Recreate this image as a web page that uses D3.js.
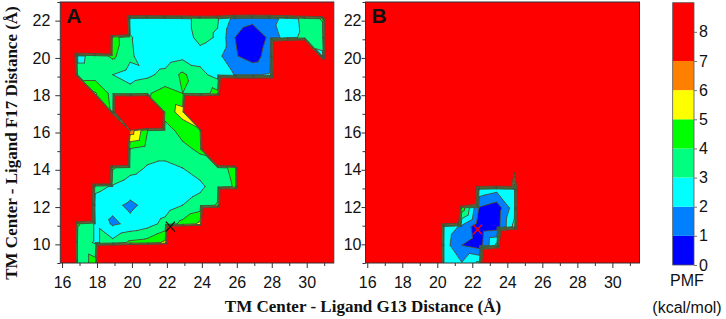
<!DOCTYPE html>
<html>
<head>
<meta charset="utf-8">
<script src="https://cdn.jsdelivr.net/npm/d3@7"></script>
<style>
  body { margin: 0; background: #fff; }
</style>
</head>
<body>
<div id="chart"></div>
<script>
// PMF value used where the surface was not sampled (drawn red)
var H = 30;

// colour bands of the PMF scale (kcal/mol)
var bandLevels = [0, 1, 2, 3, 4, 5, 6, 7, 9];
var bandColors = ["#0000ff", "#0080ff", "#00ffff", "#00ff80", "#00ff00", "#ffff00", "#ff8000", "#ff0000"];
var lineLevels = [1, 2, 3, 4, 5, 6, 7];

var xTicks = [16, 18, 20, 22, 24, 26, 28, 30];
var xMinor = [17, 19, 21, 23, 25, 27, 29, 31];
var yTicks = [10, 12, 14, 16, 18, 20, 22];
var yMinor = [9, 11, 13, 15, 17, 19, 21, 23];
var cbTicks = [0, 1, 2, 3, 4, 5, 6, 7, 8];

// panel A grid (rows from top to bottom)
var xNodesA = [15.9, 16.9, 17.9, 18.9, 19.9, 20.9, 21.9, 22.9, 23.9, 24.9, 25.9, 26.9, 27.9, 28.9, 29.9, 30.9, 31.9];
var yNodesA = [23.1, 22.1, 21.1, 20.1, 19.1, 18.1, 17.1, 16.1, 15.1, 14.1, 13.1, 12.1, 11.1, 10.1, 9.1, 8.1];
var pmfA = [
  [H, H, H, H, H, H, H, H, H, H, H, H, H, H, H, H, H],
  [H, H, H, H, 2.4, 2.4, 2.5, 2.7, 3.3, 3.1, 1.6, 1.3, 1.7, 2.3, 3.4, 4.1, H],
  [H, H, H, 4.5, 3.1, 2.4, 2.3, 2.5, 3.3, 2.9, 1.0, 0.3, 1.2, 2.6, 3.3, 3.5, H],
  [H, 2.7, 3.4, 4.2, 3.2, 2.3, 2.4, 2.7, 2.6, 2.3, 1.1, 0.5, 1.5, H, H, 2.8, H],
  [H, 3.5, 3.5, 3.0, 2.6, 2.8, 3.3, 4.2, 3.3, 2.6, 1.95, 1.9, 2.1, H, H, H, H],
  [H, H, 5.1, 3.6, 3.4, 3.9, 4.4, 4.0, 3.6, 4.3, H, H, H, H, H, H, H],
  [H, H, H, 3.8, H, H, 4.5, 5.4, H, H, H, H, H, H, H, H, H],
  [H, H, H, H, 6.6, 4.0, 3.5, 4.4, 4.9, H, H, H, H, H, H, H, H],
  [H, H, H, H, 3.9, 3.5, 3.5, 3.7, 4.2, H, H, H, H, H, H, H, H],
  [H, H, H, 4.1, 3.4, 2.9, 2.7, 3.0, 3.4, 3.6, 4.3, H, H, H, H, H, H],
  [H, H, 3.3, 2.9, 2.4, 2.2, 2.3, 2.5, 2.8, 3.5, 4.1, H, H, H, H, H, H],
  [H, H, 2.5, 2.2, 1.85, 2.2, 2.5, 3.0, 3.4, 4.1, H, H, H, H, H, H, H],
  [H, 4.1, 2.9, 1.85, 2.2, 2.6, 3.3, 4.3, 5.2, H, H, H, H, H, H, H, H],
  [H, 3.5, 2.9, 3.3, 4.2, 4.4, 5.2, H, H, H, H, H, H, H, H, H, H],
  [H, 3.5, 4.3, H, H, H, H, H, H, H, H, H, H, H, H, H, H],
  [H, 3.5, 4.3, H, H, H, H, H, H, H, H, H, H, H, H, H, H]
];

// panel B grid (only the sampled corner, the rest is above the scale)
var xNodesB = [19.4, 20.4, 21.4, 22.4, 23.4, 24.4, 25.4];
var yNodesB = [14.95, 13.95, 12.95, 11.95, 10.95, 9.95, 8.95];
var pmfB = [
  [H, H, H, H, H, H, H],
  [H, H, H, H, H, 7.5, H],
  [H, H, H, 2.7, 2.3, 2.8, H],
  [H, H, 4.6, 0.9, 0.4, 2.6, H],
  [H, 2.7, 1.8, 0.3, 0.5, 3.3, H],
  [H, 2.5, 1.0, 0.5, 3.2, H, H],
  [H, 2.6, 2.1, 3.3, H, H, H]
];

// minimum markers
var minA = [22.2, 10.95];
var minB = [22.3, 10.8];

var width = 726, height = 319;
var plotTop = 2, plotBottom = 263;
var sans = "'Liberation Sans', Arial, sans-serif";
var serif = "'Liberation Serif', 'Times New Roman', serif";

var svg = d3.select("#chart").append("svg")
    .attr("width", width)
    .attr("height", height);

var line = d3.line().x(function (d) { return d.x; }).y(function (d) { return d.y; });

// keep the part of a polygon where value >= t (above) or < t
function clipPoly(poly, t, above) {
    var out = [];
    for (var i = 0; i < poly.length; i++) {
        var a = poly[i], b = poly[(i + 1) % poly.length];
        var ina = above ? a.v >= t : a.v < t;
        var inb = above ? b.v >= t : b.v < t;
        if (ina) out.push(a);
        if (ina !== inb) {
            var f = (t - a.v) / (b.v - a.v);
            out.push({x: a.x + f * (b.x - a.x), y: a.y + f * (b.y - a.y), v: t});
        }
    }
    return out;
}

function drawPanel(p) {
    var x = d3.scaleLinear().domain([15.9, 31.55]).range([p.left, p.right]);
    var y = d3.scaleLinear().domain([9, 23]).range([plotBottom, plotTop]);

    svg.append("clipPath").attr("id", "clip-" + p.name)
        .append("rect")
        .attr("x", p.left).attr("y", plotTop)
        .attr("width", p.right - p.left).attr("height", plotBottom - plotTop);

    var g = svg.append("g").attr("clip-path", "url(#clip-" + p.name + ")");

    g.append("rect")
        .attr("x", p.left).attr("y", plotTop)
        .attr("width", p.right - p.left).attr("height", plotBottom - plotTop)
        .attr("fill", bandColors[7]);

    // split each grid cell along the top-left / bottom-right diagonal
    var tris = [];
    function node(r, c) { return {x: x(p.xs[c]), y: y(p.ys[r]), v: p.grid[r][c]}; }
    for (var r = 0; r < p.ys.length - 1; r++) {
        for (var c = 0; c < p.xs.length - 1; c++) {
            var tl = node(r, c), tr = node(r, c + 1), bl = node(r + 1, c), br = node(r + 1, c + 1);
            tris.push([tl, tr, br], [tl, br, bl]);
        }
    }

    // filled bands below 7 (red is the background)
    for (var k = 0; k < 7; k++) {
        var d = "";
        tris.forEach(function (t) {
            var poly = k === 0 ? t : clipPoly(t, k, true);
            poly = clipPoly(poly, k + 1, false);
            if (poly.length >= 3) d += line(poly) + "Z";
        });
        if (d) g.append("path").attr("d", d).attr("fill", bandColors[k]);
    }

    // contour lines
    var dl = "";
    lineLevels.forEach(function (lv) {
        tris.forEach(function (t) {
            var pts = [];
            for (var i = 0; i < 3; i++) {
                var a = t[i], b = t[(i + 1) % 3];
                if ((a.v >= lv) !== (b.v >= lv)) {
                    var f = (lv - a.v) / (b.v - a.v);
                    pts.push({x: a.x + f * (b.x - a.x), y: a.y + f * (b.y - a.y)});
                }
            }
            if (pts.length === 2) dl += line(pts);
        });
    });
    g.append("path").attr("d", dl)
        .attr("fill", "none")
        .attr("stroke", "#3f4f3f")
        .attr("stroke-width", 0.85)
        .attr("stroke-linecap", "round");

    // minimum marker
    var mx = x(p.min[0]), my = y(p.min[1]);
    g.append("path")
        .attr("d", "M" + (mx - 4.5) + "," + (my - 5) + "L" + (mx + 4.5) + "," + (my + 5) +
                   "M" + (mx + 4.5) + "," + (my - 5) + "L" + (mx - 4.5) + "," + (my + 5))
        .attr("stroke", p.markColor)
        .attr("stroke-width", 1.3)
        .attr("fill", "none");

    // frame
    svg.append("rect")
        .attr("x", p.left).attr("y", plotTop)
        .attr("width", p.right - p.left).attr("height", plotBottom - plotTop)
        .attr("fill", "none").attr("stroke", "#333").attr("stroke-width", 1);

    // axes
    var xa = svg.append("g").attr("transform", "translate(0," + plotBottom + ")")
        .call(d3.axisBottom(x).tickValues(xTicks).tickSize(5).tickPadding(9).tickFormat(d3.format("d")));
    svg.append("g").attr("transform", "translate(0," + plotBottom + ")")
        .call(d3.axisBottom(x).tickValues(xMinor).tickSize(3).tickFormat(""));
    var ya = svg.append("g").attr("transform", "translate(" + p.left + ",0)")
        .call(d3.axisLeft(y).tickValues(yTicks).tickSize(p.tick).tickPadding(p.pad).tickFormat(d3.format("d")));
    svg.append("g").attr("transform", "translate(" + p.left + ",0)")
        .call(d3.axisLeft(y).tickValues(yMinor).tickSize(3).tickFormat(""));

    svg.selectAll(".domain").remove();
    svg.selectAll(".tick line").attr("stroke", "#333");
    xa.selectAll("text").style("font-size", "16px").style("fill", "#111").style("font-family", sans);
    ya.selectAll("text").style("font-size", "16px").style("fill", "#111").style("font-family", sans);

    // panel letter
    svg.append("text")
        .attr("x", p.left + 6).attr("y", 23)
        .style("font-size", "21px").style("font-weight", "bold").style("font-family", sans)
        .style("fill", "#111")
        .text(p.name);
}

drawPanel({name: "A", left: 60.3, right: 333.8, xs: xNodesA, ys: yNodesA, grid: pmfA,
           min: minA, markColor: "#111", tick: 5, pad: 5});
drawPanel({name: "B", left: 365.5, right: 639.5, xs: xNodesB, ys: yNodesB, grid: pmfB,
           min: minB, markColor: "#ff0000", tick: 4, pad: 0});

// axis titles
svg.append("text")
    .attr("x", 363).attr("y", 312)
    .attr("text-anchor", "middle")
    .style("font-family", serif)
    .style("font-weight", "bold").style("font-size", "17px")
    .style("fill", "#111")
    .text("TM Center - Ligand G13 Distance (Å)");

svg.append("text")
    .attr("transform", "translate(17,143) rotate(-90)")
    .attr("text-anchor", "middle")
    .style("font-family", serif)
    .style("font-weight", "bold").style("font-size", "17px")
    .style("fill", "#111")
    .text("TM Center - Ligand F17 Distance (Å)");

// colour bar
var cbLeft = 672.7, cbRight = 694;
var cb = d3.scaleLinear().domain([0, 9]).range([265, 2.7]);
svg.append("g").selectAll("rect")
    .data(bandColors)
    .enter().append("rect")
    .attr("x", cbLeft)
    .attr("y", function (d, i) { return cb(bandLevels[i + 1]); })
    .attr("width", cbRight - cbLeft)
    .attr("height", function (d, i) { return cb(bandLevels[i]) - cb(bandLevels[i + 1]); })
    .attr("fill", function (d) { return d; });
svg.append("rect")
    .attr("x", cbLeft).attr("y", cb(9))
    .attr("width", cbRight - cbLeft).attr("height", cb(0) - cb(9))
    .attr("fill", "none").attr("stroke", "#555").attr("stroke-width", 0.8);
var cba = svg.append("g").attr("transform", "translate(" + cbRight + ",0)")
    .call(d3.axisRight(cb).tickValues(cbTicks).tickSize(3).tickPadding(2).tickFormat(d3.format("d")));
cba.select(".domain").remove();
cba.selectAll(".tick line").attr("stroke", "#777");
cba.selectAll("text").style("font-size", "16px").style("fill", "#111").style("font-family", sans);

svg.append("text")
    .attr("x", 687).attr("y", 286)
    .attr("text-anchor", "middle")
    .style("font-size", "16px").style("fill", "#111").style("font-family", sans)
    .text("PMF");
svg.append("text")
    .attr("x", 687).attr("y", 313)
    .attr("text-anchor", "middle")
    .style("font-size", "16px").style("fill", "#111").style("font-family", sans)
    .text("(kcal/mol)");
</script>
</body>
</html>
